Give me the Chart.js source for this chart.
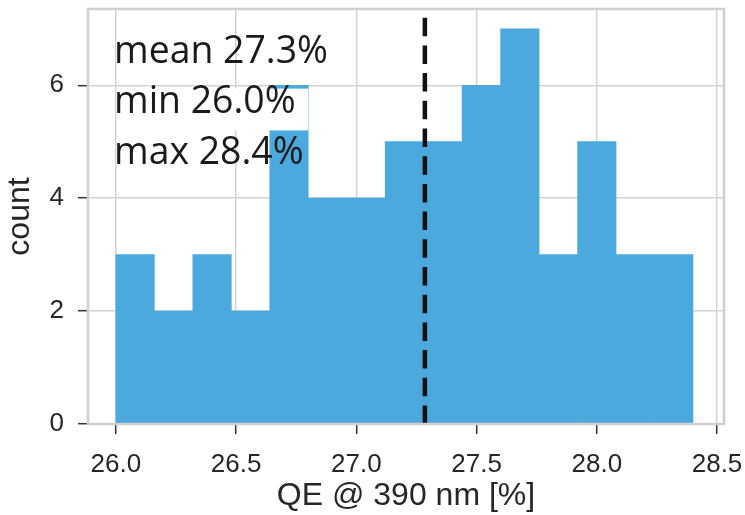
<!DOCTYPE html>
<html>
<head>
<meta charset="utf-8">
<script src="https://cdn.jsdelivr.net/npm/chart.js@4/dist/chart.umd.min.js"></script>
<style>
html,body{margin:0;padding:0;background:#ffffff;}
#wrap{width:745px;height:515px;position:relative;}
</style>
</head>
<body>
<div id="wrap"><canvas id="c" width="745" height="515"></canvas></div>
<script>
// ---- data ----
const binEdges = [26.00, 26.16, 26.32, 26.48, 26.64, 26.80, 26.96, 27.12, 27.28, 27.44, 27.60, 27.76, 27.92, 28.08, 28.24, 28.40];
const counts   = [3, 2, 3, 2, 6, 4, 4, 5, 5, 6, 7, 3, 5, 3, 3];
const meanValue = 27.285;
const xTicks = [26.0, 26.5, 27.0, 27.5, 28.0, 28.5];
const yTicks = [0, 2, 4, 6];
const statLines = ['mean 27.3%', 'min 26.0%', 'max 28.4%'];
const xTitle = 'QE @ 390 nm [%]';
const yTitle = 'count';
const xRange = [25.884, 28.529];
const yRange = [0, 7.35];

// ---- styles ----
const BAR = 'rgb(75,169,222)';
const GRID = '#d2d2d2';
const TEXT = '#262626';
const TICKFONT = {family: '"Liberation Sans", Arial, sans-serif', size: 26};
const TITLEFONT = {family: '"Liberation Sans", Arial, sans-serif', size: 32, lineHeight: 1.15};

const histPoints = counts.map((c, i) => ({x: (binEdges[i] + binEdges[i + 1]) / 2, y: c}));
const meanPoints = [{x: meanValue, y: yRange[0]}, {x: meanValue, y: yRange[1]}];

const overlay = {
  id: 'overlay',
  afterDatasetsDraw(chart) {
    const {ctx, chartArea: a, scales: {x, y}} = chart;
    ctx.save();
    // white backing behind the middle statistics line (as in the reference)
    const bx0 = x.getPixelForValue(26.008), bx1 = x.getPixelForValue(binEdges[5]);
    const by0 = y.getPixelForValue(5.94), by1 = y.getPixelForValue(5.2);
    ctx.fillStyle = '#ffffff';
    ctx.fillRect(bx0, by0, bx1 - bx0, by1 - by0);
    // frame
    ctx.strokeStyle = '#cfcfcf';
    ctx.lineWidth = 2.5;
    ctx.strokeRect(a.left, a.top, a.right - a.left, a.bottom - a.top);
    // statistics text
    let size = 40;
    ctx.font = size + 'px "Open Sans", sans-serif';
    const w = ctx.measureText(statLines[0]).width;
    size = size * 214 / w;
    ctx.font = size.toFixed(2) + 'px "Open Sans", sans-serif';
    ctx.fillStyle = '#1a1a1a';
    ctx.textAlign = 'left';
    ctx.textBaseline = 'alphabetic';
    const offs = [54, 104, 155];
    statLines.forEach((t, i) => ctx.fillText(t, a.left + 26, a.top + offs[i]));
    ctx.restore();
  }
};

new Chart(document.getElementById('c'), {
  type: 'bar',
  data: {
    datasets: [
      {
        type: 'line',
        data: meanPoints,
        borderColor: '#111111',
        borderWidth: 4.5,
        borderDash: [18.5, 9.2],
        pointRadius: 0,
        fill: false,
        tension: 0,
        order: 0
      },
      {
        type: 'bar',
        data: histPoints,
        backgroundColor: BAR,
        borderWidth: 0,
        barPercentage: 1.0,
        categoryPercentage: 1.0,
        order: 1
      }
    ]
  },
  options: {
    responsive: false,
    animation: false,
    devicePixelRatio: 1,
    layout: {padding: {top: 9, right: 21, left: 0, bottom: 0}},
    plugins: {legend: {display: false}, tooltip: {enabled: false}},
    scales: {
      x: {
        type: 'linear',
        min: xRange[0],
        max: xRange[1],
        offset: false,
        afterBuildTicks: s => { s.ticks = xTicks.map(v => ({value: v})); },
        afterFit: s => { s.height = 91; s.paddingLeft = 0; s.paddingRight = 0; },
        ticks: {
          font: TICKFONT, color: TEXT, padding: 15, maxRotation: 0,
          callback: v => Number(v).toFixed(1)
        },
        grid: {color: GRID, lineWidth: 1.4, tickColor: '#333333', tickLength: 10, tickWidth: 1.5, offset: false},
        border: {display: false},
        title: {display: true, text: xTitle, font: TITLEFONT, color: TEXT, padding: {top: 0, bottom: 0}}
      },
      y: {
        min: yRange[0],
        max: yRange[1],
        afterBuildTicks: s => { s.ticks = yTicks.map(v => ({value: v})); },
        afterFit: s => { s.width = 88; s.paddingTop = 0; s.paddingBottom = 0; },
        ticks: {font: TICKFONT, color: TEXT, padding: 14},
        grid: {color: GRID, lineWidth: 1.4, tickColor: '#333333', tickLength: 10, tickWidth: 1.5},
        border: {display: false},
        title: {display: true, text: yTitle, font: TITLEFONT, color: TEXT, padding: {top: 2, bottom: 0}}
      }
    }
  },
  plugins: [overlay]
});
</script>
</body>
</html>
